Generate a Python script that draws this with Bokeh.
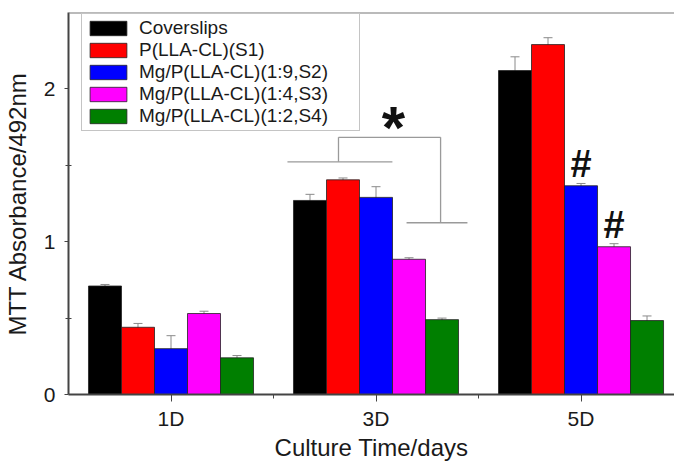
import math
from bokeh.plotting import figure
from bokeh.models import (ColumnDataSource, Range1d, FixedTicker, Whisker, TeeHead,
                          Span, Legend, LegendItem, LinearAxis)
from bokeh.transform import dodge
from bokeh.embed import file_html
from bokeh.resources import INLINE
from bokeh.core.properties import value

# ---------------- data ----------------
days = ["1D", "3D", "5D"]
series = ["Coverslips", "P(LLA-CL)(S1)", "Mg/P(LLA-CL)(1:9,S2)",
          "Mg/P(LLA-CL)(1:4,S3)", "Mg/P(LLA-CL)(1:2,S4)"]
coverslips = [0.71, 1.27, 2.12]
s1 = [0.44, 1.405, 2.29]
s2 = [0.30, 1.29, 1.366]
s3 = [0.53, 0.885, 0.967]
s4 = [0.24, 0.49, 0.484]
coverslips_err = [0.01, 0.04, 0.09]
s1_err = [0.025, 0.012, 0.045]
s2_err = [0.085, 0.07, 0.015]
s3_err = [0.015, 0.01, 0.02]
s4_err = [0.015, 0.01, 0.03]
y_ticks = [0, 1, 2]
y_minor_ticks = [0.5, 1.5]
# significance marks: (day, series index, symbol)
sig_marks = [("5D", 2, "#"), ("5D", 3, "#")]

# ---------------- styles ----------------
colors = ["#000000", "#ff0000", "#0000ff", "#ff00ff", "#007f00"]
FONT = "Liberation Sans"
BAR_W = 0.161

values = [coverslips, s1, s2, s3, s4]
errors = [coverslips_err, s1_err, s2_err, s3_err, s4_err]

data = {"x": list(range(len(days)))}
for k in range(len(series)):
    data[f"v{k}"] = values[k]
    data[f"u{k}"] = [v + e for v, e in zip(values[k], errors[k])]
    data[f"l{k}"] = [v - e for v, e in zip(values[k], errors[k])]
src = ColumnDataSource(data)

p = figure(width=674, height=463, x_range=Range1d(-0.5, 2.456), y_range=Range1d(0, 2.5),
           output_backend="svg", toolbar_location=None,
           min_border_left=68, min_border_right=0, min_border_top=12, min_border_bottom=69)
p.background_fill_color = "white"
p.border_fill_color = "white"
p.outline_line_color = None
p.xgrid.visible = False
p.ygrid.visible = False

renderers = []
for k, name in enumerate(series):
    off = (k - 2) * BAR_W
    r = p.vbar(x=dodge("x", off), top=f"v{k}", width=BAR_W, source=src,
               fill_color=colors[k], line_color="#222222", line_width=0.8)
    renderers.append(r)
for k, name in enumerate(series):
    off = (k - 2) * BAR_W
    w = Whisker(base=dodge("x", off), upper=f"u{k}", lower=f"l{k}", source=src,
                line_color="#8a8a8a", line_width=1,
                upper_head=TeeHead(size=9, line_color="#8a8a8a", line_width=1),
                lower_head=TeeHead(size=9, line_color="#8a8a8a", line_width=1))
    p.add_layout(w)

# significance '#'
hx, hy, ht = [], [], []
for day, k, sym in sig_marks:
    i = days.index(day)
    hx.append(i + (k - 2) * BAR_W)
    hy.append(values[k][i] + errors[k][i] + 0.125)
    ht.append(sym)
p.text(x=hx, y=hy, text=ht, text_font=value(FONT), text_font_style="bold",
       text_font_size="38px", text_align="center", text_baseline="alphabetic",
       text_color="#111111")

# bracket with asterisk
br_xs = [[0.568, 1.080], [0.817, 0.817], [0.817, 1.315], [1.315, 1.315], [1.149, 1.446]]
br_ys = [[1.523, 1.523], [1.523, 1.683], [1.683, 1.683], [1.683, 1.124], [1.124, 1.124]]
p.multi_line(xs=br_xs, ys=br_ys, line_color="#9a9a9a", line_width=1.3)
p.text(x=[1.085], y=[1.745], text=["*"], text_font=value(FONT), text_font_style="bold",
       text_font_size="60px", text_align="center", text_baseline="alphabetic",
       text_color="#111111")

# top frame line
p.add_layout(Span(location=2.5, dimension="width", line_color="#777777", line_width=2))

# axes
p.xaxis.ticker = FixedTicker(ticks=list(range(len(days))), minor_ticks=[0.5, 1.5])
p.xaxis.major_label_overrides = {i: d for i, d in enumerate(days)}
p.yaxis.ticker = FixedTicker(ticks=y_ticks, minor_ticks=y_minor_ticks)
for ax in (p.xaxis[0], p.yaxis[0]):
    ax.axis_line_color = "#444444"
    ax.axis_line_width = 2
    ax.major_tick_line_color = "#444444"
    ax.minor_tick_line_color = "#444444"
    ax.major_label_text_font = FONT
    ax.major_label_text_font_size = "21px"
    ax.major_label_text_color = "#1a1a1a"
p.xaxis.major_tick_in = 0
p.xaxis.major_tick_out = 7
p.xaxis.minor_tick_in = 0
p.xaxis.minor_tick_out = 4
p.xaxis.major_label_standoff = 5
p.yaxis.major_tick_in = 0
p.yaxis.major_tick_out = 4
p.yaxis.minor_tick_in = 3
p.yaxis.minor_tick_out = 3
p.yaxis.major_label_standoff = 9

p.xaxis.axis_label = "Culture Time/days"
p.xaxis.axis_label_text_font = FONT
p.xaxis.axis_label_text_font_size = "24px"
p.xaxis.axis_label_text_font_style = "normal"
p.xaxis.axis_label_text_color = "#1a1a1a"
p.xaxis.axis_label_standoff = 1

# y title on a bare left axis whose bounds set where the title is centred
ytitle_axis = LinearAxis(ticker=FixedTicker(ticks=[]), bounds=(0, 2.016),
                         axis_label="MTT Absorbance/492nm",
                         axis_label_text_font=FONT, axis_label_text_font_size="24px",
                         axis_label_text_font_style="normal", axis_label_text_color="#1a1a1a",
                         axis_label_standoff=10, axis_line_color=None,
                         major_tick_line_color=None, minor_tick_line_color=None,
                         major_tick_out=0, major_tick_in=0, major_label_standoff=0)
p.add_layout(ytitle_axis, "left")

legend = Legend(items=[LegendItem(label=n, renderers=[r]) for n, r in zip(series, renderers)],
                location=(13, 263), margin=0, padding=3, spacing=0,
                glyph_width=46, glyph_height=18, label_height=18, label_width=217,
                label_standoff=8, label_text_font=FONT, label_text_font_size="19px",
                label_text_color="#1a1a1a", border_line_color="#8a8a8a",
                border_line_width=1.5, background_fill_color="white", background_fill_alpha=1)
p.add_layout(legend)

open("out.html", "w").write(file_html(p, INLINE))
